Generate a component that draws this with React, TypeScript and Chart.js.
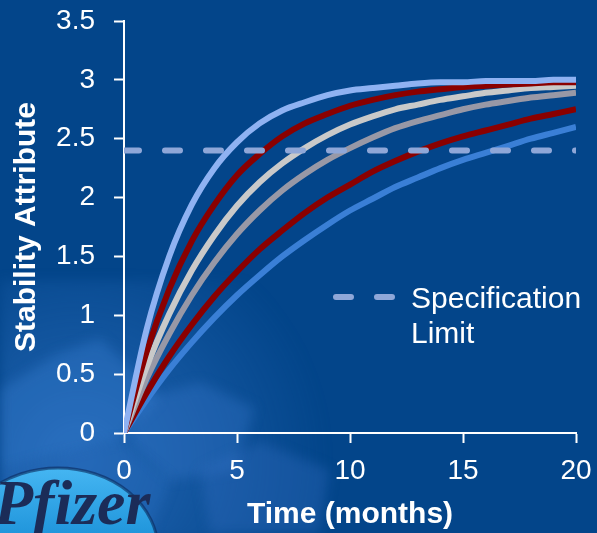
import { useEffect, useRef } from "react";
import { Chart, registerables } from "chart.js";

Chart.register(...registerables);

// Sampling times (months) and the stability attribute for each simulated batch
const months = [0, 1, 2, 3, 4, 5, 6, 7, 8, 9, 10, 11, 12, 13, 14, 15, 16, 17, 18, 19, 20];
const batchA = [0, 0.88, 1.5, 1.94, 2.25, 2.47, 2.63, 2.74, 2.81, 2.87, 2.91, 2.93, 2.95, 2.97, 2.98, 2.98, 2.99, 2.99, 2.99, 3.0, 3.0];
const batchB = [0, 0.69, 1.22, 1.63, 1.94, 2.19, 2.37, 2.52, 2.63, 2.71, 2.78, 2.83, 2.87, 2.9, 2.92, 2.94, 2.95, 2.96, 2.97, 2.98, 2.98];
const batchC = [0, 0.56, 1.01, 1.38, 1.68, 1.93, 2.13, 2.29, 2.42, 2.53, 2.62, 2.69, 2.75, 2.79, 2.83, 2.86, 2.89, 2.91, 2.93, 2.94, 2.95];
const batchD = [0, 0.46, 0.84, 1.17, 1.45, 1.69, 1.89, 2.06, 2.2, 2.32, 2.42, 2.51, 2.59, 2.65, 2.7, 2.75, 2.79, 2.82, 2.85, 2.87, 2.89];
const batchE = [0, 0.34, 0.65, 0.92, 1.16, 1.37, 1.56, 1.72, 1.87, 2.0, 2.11, 2.22, 2.31, 2.39, 2.46, 2.52, 2.57, 2.62, 2.67, 2.71, 2.75];
const batchF = [0, 0.28, 0.54, 0.77, 0.98, 1.17, 1.34, 1.5, 1.64, 1.77, 1.89, 1.99, 2.09, 2.17, 2.25, 2.32, 2.38, 2.44, 2.5, 2.55, 2.6];

const batches = [batchA, batchB, batchC, batchD, batchE, batchF];
const batchColors = ["#8fb2f2", "#8a0000", "#c9c9c9", "#9898a6", "#8a0000", "#3a7fd6"];

// Specification limit line
const specMonths = [0, 20];
const specLimit = [2.4, 2.4];
const specLabel = ["Specification", "Limit"];
const specColor = "#8fa7d8";

const xTitle = "Time (months)";
const yTitle = "Stability Attribute";
const logoText = "Pfizer";

const BG = "#03458a";
const FONT = "'Liberation Sans', Arial, sans-serif";
const SPEC_DASH = [15, 26];

const backdrop = {
  id: "backdrop",
  beforeDraw(chart: any) {
    const { ctx, width, height } = chart;
    ctx.save();
    ctx.fillStyle = BG;
    ctx.fillRect(0, 0, width, height);

    // soft lighter facets in the lower-left corner
    ctx.filter = "blur(6px)";
    const glow = ctx.createRadialGradient(80, 460, 10, 80, 460, 250);
    glow.addColorStop(0, "rgba(60,130,215,0.5)");
    glow.addColorStop(1, "rgba(60,130,215,0)");
    ctx.fillStyle = glow;
    ctx.fillRect(0, 280, 360, 260);
    const facets = [
      { pts: [[0, 390], [55, 355], [100, 338], [160, 398], [118, 440], [0, 470]], c: "rgba(70,140,225,0.28)" },
      { pts: [[140, 400], [200, 382], [255, 408], [235, 470], [170, 480], [130, 440]], c: "rgba(65,130,215,0.28)" },
      { pts: [[200, 470], [260, 442], [330, 470], [320, 533], [210, 533]], c: "rgba(60,120,205,0.28)" },
      { pts: [[0, 470], [118, 440], [170, 480], [150, 533], [0, 533]], c: "rgba(50,115,200,0.3)" },
    ];
    for (const f of facets) {
      ctx.beginPath();
      f.pts.forEach(([x, y], i) => (i ? ctx.lineTo(x, y) : ctx.moveTo(x, y)));
      ctx.closePath();
      ctx.fillStyle = f.c;
      ctx.fill();
    }
    ctx.filter = "none";

    // corporate logo
    const oval = ctx.createLinearGradient(0, 468, 0, 533);
    oval.addColorStop(0, "#45b6f2");
    oval.addColorStop(1, "#2196dc");
    ctx.beginPath();
    ctx.ellipse(58, 550, 100, 82, 0, 0, Math.PI * 2);
    ctx.fillStyle = oval;
    ctx.fill();
    ctx.lineWidth = 3;
    ctx.strokeStyle = "rgba(10,40,90,0.6)";
    ctx.stroke();
    ctx.font = "italic bold 64px 'Liberation Serif', serif";
    ctx.fillStyle = "#1b2c58";
    ctx.textBaseline = "alphabetic";
    ctx.fillText(logoText, -6, 524);
    ctx.restore();
  },
};

const specLegend = {
  id: "specLegend",
  afterDraw(chart: any) {
    const { ctx, chartArea } = chart;
    const x0 = chartArea.left + 212;
    const y0 = chartArea.top + 276;
    ctx.save();
    ctx.strokeStyle = specColor;
    ctx.lineWidth = 6;
    ctx.lineCap = "round";
    ctx.setLineDash(SPEC_DASH);
    ctx.beginPath();
    ctx.moveTo(x0, y0);
    ctx.lineTo(x0 + 58, y0);
    ctx.stroke();
    ctx.setLineDash([]);
    ctx.fillStyle = "#ffffff";
    ctx.font = `30px ${FONT}`;
    ctx.textBaseline = "alphabetic";
    specLabel.forEach((line, i) => ctx.fillText(line, x0 + 75, y0 + 11 + i * 35));
    ctx.restore();
  },
};

export default function App() {
  const ref = useRef<HTMLCanvasElement | null>(null);

  useEffect(() => {
    const prevMargin = document.body.style.margin;
    document.body.style.margin = "0";
    if (!ref.current) return;

    const curveSets = batches.map((vals, i) => ({
      label: `Batch ${i + 1}`,
      data: months.map((m, j) => ({ x: m, y: vals[j] })),
      borderColor: batchColors[i],
      borderWidth: 6,
      pointRadius: 0,
      cubicInterpolationMode: "monotone" as const,
      fill: false,
    }));

    const chart = new Chart(ref.current, {
      type: "line",
      data: {
        datasets: [
          {
            label: specLabel.join(" "),
            data: specMonths.map((m, j) => ({ x: m, y: specLimit[j] })),
            borderColor: specColor,
            borderWidth: 6,
            borderDash: SPEC_DASH,
            borderCapStyle: "round",
            pointRadius: 0,
            fill: false,
          },
          ...curveSets,
        ],
      },
      options: {
        animation: false,
        responsive: false,
        events: [],
        layout: { padding: { top: 21, right: 21, left: 0, bottom: 0 } },
        plugins: { legend: { display: false }, tooltip: { enabled: false } },
        scales: {
          x: {
            type: "linear",
            min: 0,
            max: 20,
            afterFit(scale: any) {
              scale.height = 100;
              scale.paddingLeft = 0;
              scale.paddingRight = 0;
            },
            ticks: {
              stepSize: 5,
              color: "#ffffff",
              font: { family: FONT, size: 28 },
              padding: 11,
              maxRotation: 0,
              callback: (v: any) => String(v),
            },
            grid: {
              drawOnChartArea: false,
              drawTicks: true,
              tickLength: 10,
              tickColor: "#ffffff",
              tickWidth: 2,
            },
            border: { display: true, color: "#ffffff", width: 2 },
            title: {
              display: true,
              text: xTitle,
              color: "#ffffff",
              font: { family: FONT, size: 30, weight: "bold" },
              padding: { top: 0, bottom: 0 },
            },
          },
          y: {
            min: 0,
            max: 3.5,
            afterFit(scale: any) {
              scale.width = 124;
              scale.paddingTop = 0;
              scale.paddingBottom = 0;
            },
            ticks: {
              stepSize: 0.5,
              color: "#ffffff",
              font: { family: FONT, size: 28 },
              padding: 19,
              callback: (v: any) => String(v),
            },
            grid: {
              drawOnChartArea: false,
              drawTicks: true,
              tickLength: 10,
              tickColor: "#ffffff",
              tickWidth: 2,
            },
            border: { display: true, color: "#ffffff", width: 2 },
            title: {
              display: true,
              text: yTitle,
              color: "#ffffff",
              font: { family: FONT, size: 30, weight: "bold" },
              padding: { top: 9, bottom: 0 },
            },
          },
        },
      },
      plugins: [backdrop, specLegend],
    });

    return () => {
      chart.destroy();
      document.body.style.margin = prevMargin;
    };
  }, []);

  return (
    <div style={{ width: 597, height: 533, background: BG }}>
      <canvas ref={ref} width={597} height={533} style={{ display: "block" }} />
    </div>
  );
}
